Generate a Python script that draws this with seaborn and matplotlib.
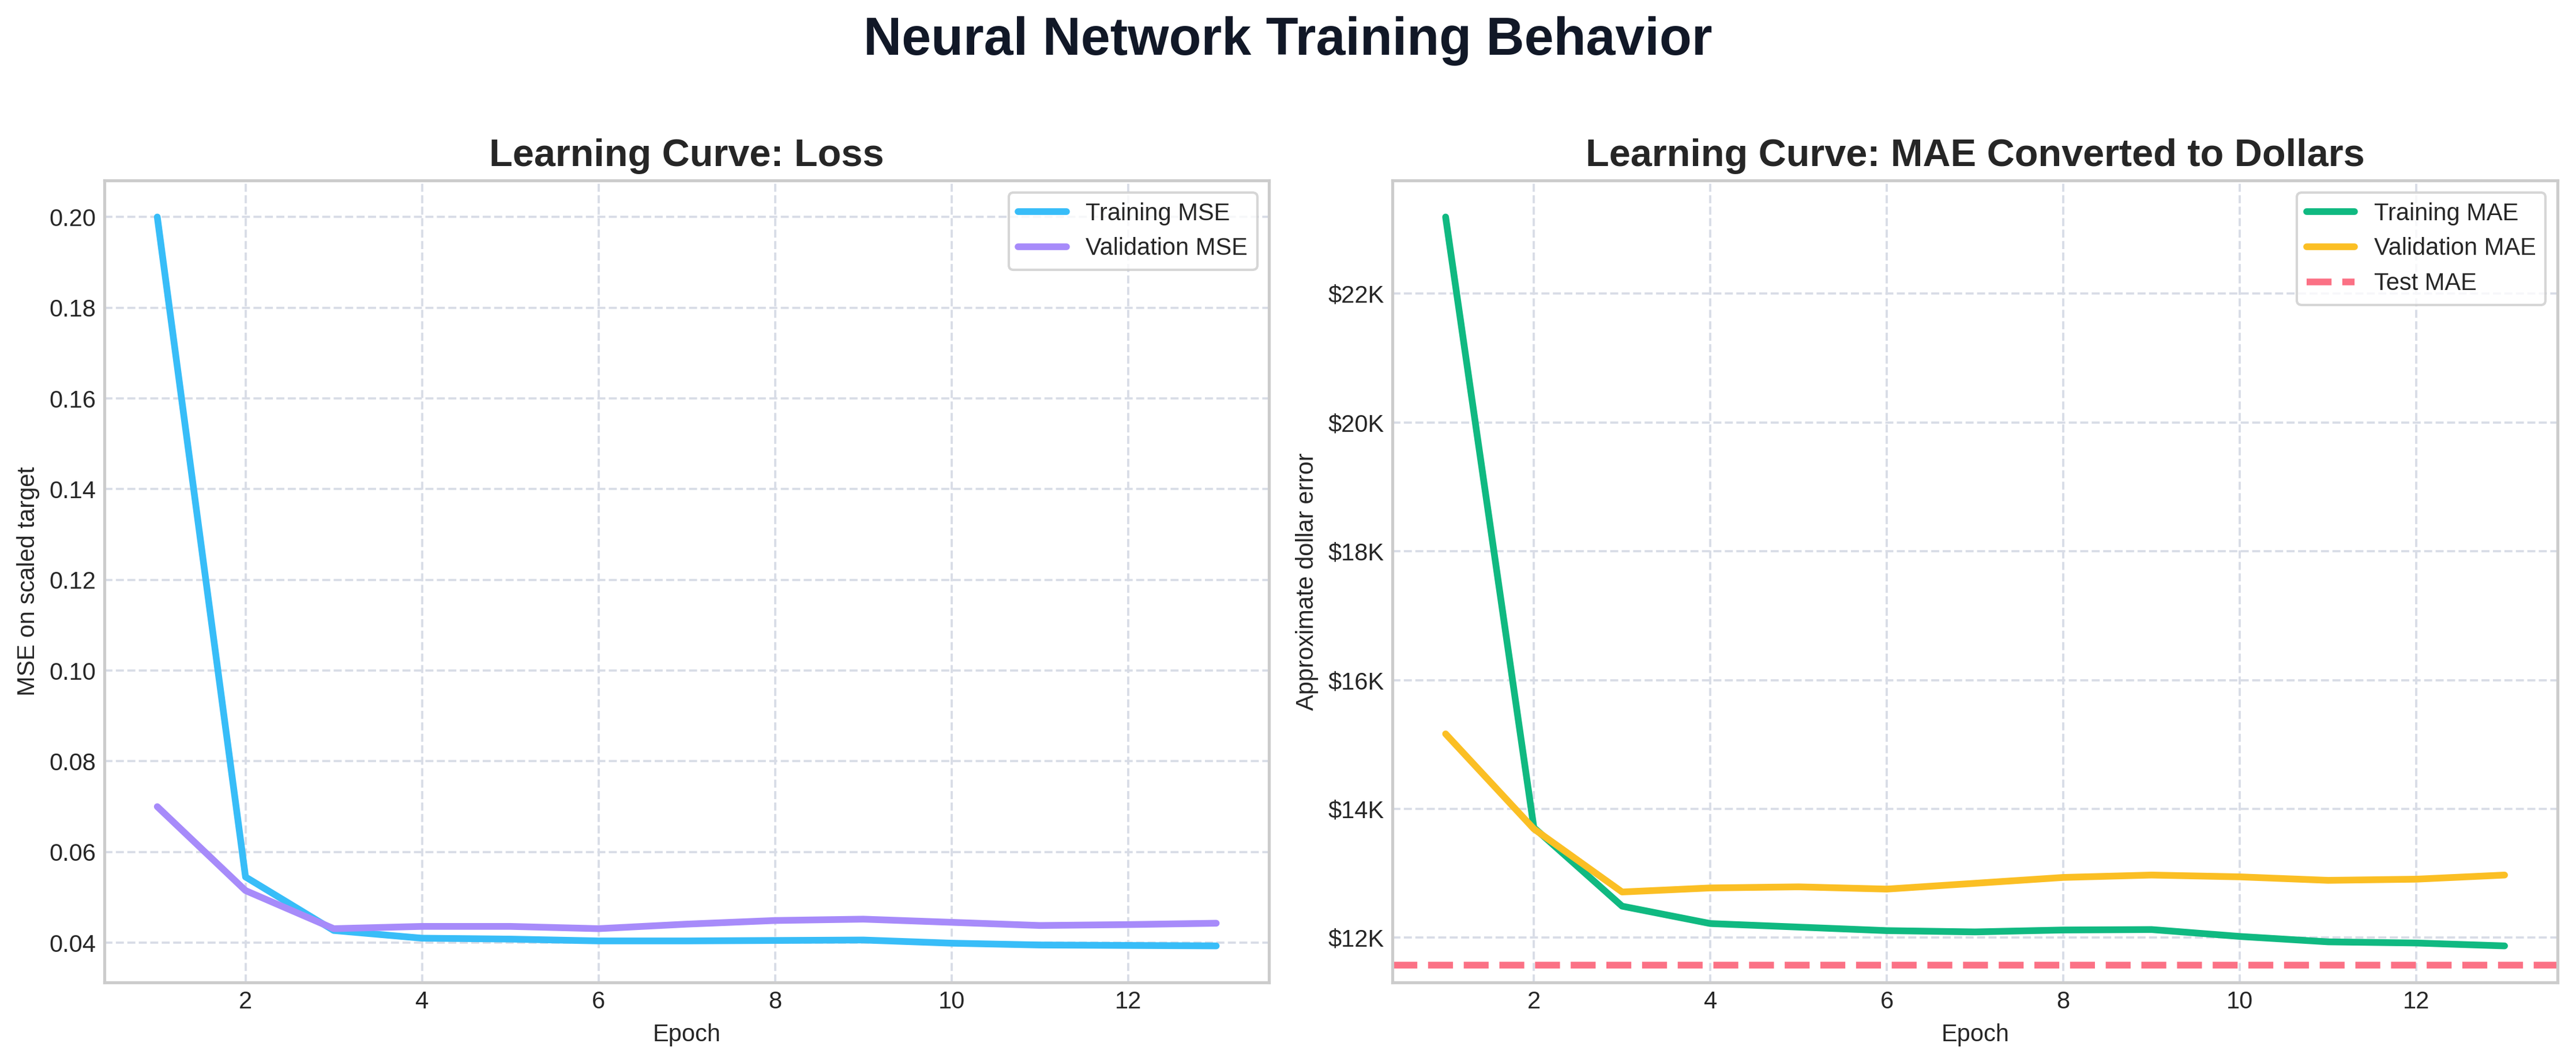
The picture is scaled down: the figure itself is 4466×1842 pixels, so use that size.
import numpy as np
import pandas as pd
import matplotlib
matplotlib.use('Agg')
import matplotlib.pyplot as plt
import seaborn as sns
from matplotlib.ticker import FuncFormatter

# 데이터
epochs = list(range(1, 14))
train_mse = [0.200, 0.0545, 0.0427, 0.0410, 0.0408, 0.0404, 0.0404, 0.0405, 0.0406, 0.0399, 0.0395, 0.0394, 0.0393]
val_mse = [0.0700, 0.0515, 0.0431, 0.0436, 0.0436, 0.0431, 0.0441, 0.0449, 0.0452, 0.0445, 0.0438, 0.0440, 0.0443]
train_mae = [23190, 13710, 12490, 12220, 12165, 12110, 12090, 12120, 12127, 12020, 11936, 11918, 11873]
val_mae = [15165, 13690, 12710, 12773, 12790, 12755, 12845, 12936, 12973, 12945, 12891, 12909, 12973]
test_mae = 11573

loss_df = pd.DataFrame({'Epoch': epochs, 'Training MSE': train_mse, 'Validation MSE': val_mse})
mae_df = pd.DataFrame({'Epoch': epochs, 'Training MAE': train_mae, 'Validation MAE': val_mae})

sns.set_theme(style='whitegrid')
plt.rcParams['font.family'] = ['Liberation Sans', 'DejaVu Sans']

fig, axes = plt.subplots(1, 2, figsize=(14.887, 6.14), dpi=300)
fig.subplots_adjust(left=0.0405, right=0.9928, bottom=0.075, top=0.830, wspace=0.106)

# 왼쪽: Loss
ax = axes[0]
sns.lineplot(data=loss_df, x='Epoch', y='Training MSE', ax=ax, color='#38bdf8', linewidth=2.8, label='Training MSE')
sns.lineplot(data=loss_df, x='Epoch', y='Validation MSE', ax=ax, color='#a78bfa', linewidth=2.8, label='Validation MSE')
ax.set_title('Learning Curve: Loss', fontsize=16, fontweight='bold')
ax.set_ylabel('MSE on scaled target', fontsize=10)
ax.yaxis.set_major_formatter(FuncFormatter(lambda v, p: f'{v:.2f}'))

# 오른쪽: MAE in dollars
ax = axes[1]
sns.lineplot(data=mae_df, x='Epoch', y='Training MAE', ax=ax, color='#10b981', linewidth=2.8, label='Training MAE')
sns.lineplot(data=mae_df, x='Epoch', y='Validation MAE', ax=ax, color='#fbbf24', linewidth=2.8, label='Validation MAE')
ax.axhline(test_mae, color='#fb7185', linestyle='--', linewidth=2.8, label='Test MAE')
ax.set_title('Learning Curve: MAE Converted to Dollars', fontsize=16, fontweight='bold')
ax.set_ylabel('Approximate dollar error', fontsize=10)
ax.yaxis.set_major_formatter(FuncFormatter(lambda v, p: f'${v/1000:.0f}K'))

for ax in axes:
    ax.set_xlabel('Epoch', fontsize=10)
    ax.tick_params(labelsize=10, length=0)
    ax.grid(True, linestyle='--', color='#d8dce6', linewidth=0.9)
    ax.legend(loc='upper right', fontsize=10, frameon=True)

fig.suptitle('Neural Network Training Behavior', fontsize=22, fontweight='bold', color='#111827', y=0.985)

plt.savefig('out.png', dpi=300)
